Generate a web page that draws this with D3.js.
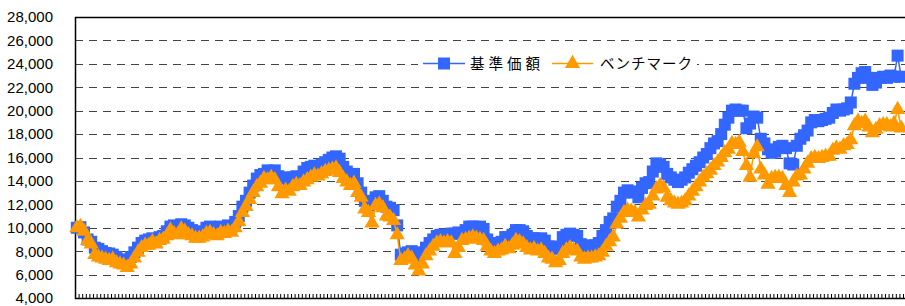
<!DOCTYPE html>
<html>
<head>
<meta charset="utf-8">
<script src="https://cdn.jsdelivr.net/npm/d3@7"></script>
<style>
  html, body { margin: 0; padding: 0; background: #fff; }
  svg { display: block; }
  .tick-label { font-family: "Liberation Sans", Arial, sans-serif; font-size: 15px; fill: #000; }
  .legend-label { font-family: "Noto Sans CJK JP", sans-serif; font-size: 14.5px; fill: #000; }
</style>
</head>
<body>
<svg id="chart" width="905" height="306"></svg>
<script>
// y axis tick labels
var yTicks = [4000, 6000, 8000, 10000, 12000, 14000, 16000, 18000, 20000, 22000, 24000, 26000, 28000];

// series names (legend)
var seriesNames = ['基準価額', 'ベンチマーク'];

// 基準価額, one value per category
var navValues = [
  10000, 10050, 9600, 9000, 8800,
  8300, 8200, 8000, 7850, 7800,
  7700, 7500, 7300, 7200, 7100,
  7500, 7900, 8300, 8700, 8900,
  9000, 9100, 9000, 9200, 9300,
  9700, 10100, 10200, 10100, 10300,
  10200, 10000, 9800, 9600, 9500,
  9700, 10000, 10100, 10000, 9900,
  10100, 10000, 10200, 10100, 10500,
  11000, 11800, 12300, 13000, 13600,
  14200, 14500, 14600, 14900, 14800,
  14900, 14400, 14200, 14300, 14000,
  14300, 14400, 14300, 14800, 15100,
  15200, 15300, 15100, 15400, 15600,
  15800, 16000, 16100, 15900, 15200,
  14800, 14500, 14600, 13800, 13000,
  12300, 11900, 12200, 12600, 12700,
  12300, 11800, 11700, 11500, 10200,
  7700, 7800, 7900, 8000, 7600,
  7400, 7900, 8300, 8700, 9000,
  9300, 9400, 9400, 9300, 9500,
  9500, 9600, 9500, 9800, 10100,
  10100, 10000, 10100, 9900, 9000,
  8700, 8600, 8700, 8800, 9200,
  9200, 9400, 9800, 9800, 9700,
  9300, 9100, 9100, 9000, 9100,
  8900, 8400, 8300, 8400, 8200,
  9200, 9400, 9500, 9400, 9300,
  8600, 8400, 8500, 8400, 8500,
  8700, 9300, 9800, 10500, 10800,
  11800, 12300, 13000, 13200, 13100,
  13000, 12600, 13400, 13800, 13900,
  14800, 15500, 15400, 15200, 14600,
  14300, 14100, 13900, 14100, 14300,
  14700, 15000, 15300, 15600, 16000,
  16300, 16800, 17200, 17400, 18000,
  18800, 19400, 20000, 20100, 20000,
  20000, 18500, 18900, 19500, 19400,
  17600, 17200, 16700, 16400, 16500,
  16900, 17000, 16800, 15500, 15400,
  17000, 17600, 17900, 18300, 19000,
  19200, 19100, 19200, 19300, 19400,
  19800, 20100, 20000, 20100, 20200,
  20700, 22300, 22800, 23200, 23300,
  22800, 22200, 22400, 22800, 22900,
  22800, 23000, 22900, 24700, 22900
];

// ベンチマーク
var benchValues = [
  10000, 10100, 9700, 8900, 8600,
  7700, 7500, 7400, 7300, 7200,
  7300, 7000, 6900, 6800, 6600,
  6900, 7400, 7900, 8300, 8500,
  8500, 8800, 8600, 8900, 9000,
  9300, 9800, 9500, 9400, 9900,
  9700, 9400, 9300, 9100, 9100,
  9200, 9500, 9600, 9400, 9300,
  9600, 9500, 9700, 9600, 10000,
  10500, 11300, 11800, 12400, 13000,
  13500, 13800, 14200, 14100, 14300,
  14100, 13500, 12900, 13200, 13100,
  13500, 13700, 13600, 13900, 14100,
  14300, 14500, 14400, 14600, 14800,
  14900, 15000, 15100, 14700, 14200,
  13900, 13600, 13800, 13000, 12600,
  11600, 11300, 10400, 11900, 12000,
  11700, 11000, 10900, 10600, 9400,
  7200, 7300, 7600, 7400, 6800,
  6300, 6900, 7600, 8000, 8400,
  8700, 8800, 8700, 8800, 8700,
  7800, 8300, 8900, 9000, 9100,
  9200, 9100, 9000, 8900, 8400,
  8000, 7800, 8000, 8100, 8400,
  8200, 8500, 8900, 8800, 8600,
  8300, 8100, 8200, 8000, 8100,
  7800, 7400, 7300, 7000, 7200,
  7800, 8100, 8300, 8100, 8000,
  7500, 7300, 7400, 7400, 7500,
  7600, 7900, 8400, 8800, 9200,
  10300, 10800, 11300, 11500, 11400,
  11300, 10900, 11500, 11900, 12000,
  12700, 13300, 13600, 13400, 12600,
  12300, 12100, 12000, 12100, 12300,
  12700, 13100, 13500, 13900, 14300,
  14600, 14900, 15300, 15600, 16000,
  16400, 16700, 17200, 17100, 17300,
  16500, 15300, 14300, 16300, 16900,
  15000, 14500, 13700, 14200, 14300,
  14300, 14200, 13600, 13000, 13900,
  14400, 14500, 15000, 15500, 15900,
  16000, 15900, 16000, 16100, 16100,
  16600, 16800, 16700, 17000, 17100,
  17500, 18700, 19100, 18900, 19100,
  18600, 18100, 18400, 18700, 18800,
  18800, 18600, 18900, 20100, 18500
];

var BLUE = '#3366ff';
var ORANGE = '#ff9900';

var plot = { left: 75, right: 903, top: 17, bottom: 298 };
var n = navValues.length;

var svg = d3.select('#chart');

// category edges -> ticks; points sit mid-category
var xEdge = d3.scaleLinear().domain([0, n]).range([plot.left, plot.right]);
var x = function(i) { return xEdge(i + 0.5); };

var y = d3.scaleLinear()
  .domain([yTicks[0], yTicks[yTicks.length - 1]])
  .range([plot.bottom, plot.top]);

// dashed gridlines
svg.append('g')
  .selectAll('line')
  .data(yTicks.slice(1, -1))
  .enter().append('line')
  .attr('x1', plot.left).attr('x2', 905)
  .attr('y1', function(d) { return Math.round(y(d)) + 0.5; })
  .attr('y2', function(d) { return Math.round(y(d)) + 0.5; })
  .attr('stroke', '#444')
  .attr('stroke-width', 1)
  .attr('stroke-dasharray', '8,6');

// y labels
svg.append('g')
  .selectAll('text')
  .data(yTicks)
  .enter().append('text')
  .attr('class', 'tick-label')
  .attr('x', 53)
  .attr('y', function(d) { return y(d); })
  .attr('dy', '0.36em')
  .attr('text-anchor', 'end')
  .text(d3.format(','));

// frame: left, top, bottom
svg.append('path')
  .attr('d', 'M905,' + (plot.top + 0.5) + 'H' + (plot.left + 0.5) + 'V' + (plot.bottom + 0.5) + 'H905')
  .attr('fill', 'none')
  .attr('stroke', '#000')
  .attr('stroke-width', 1.5);

// category ticks, pointing up into the plot
var xAxis = svg.append('g')
  .attr('transform', 'translate(0,' + plot.bottom + ')')
  .call(d3.axisBottom(xEdge).tickValues(d3.range(n + 1)).tickSizeInner(-4).tickSizeOuter(0).tickFormat(''));
xAxis.select('.domain').remove();
xAxis.selectAll('.tick line').attr('stroke', '#000');

var line = d3.line()
  .x(function(d, i) { return x(i); })
  .y(function(d) { return y(d); });

var sq = d3.symbol().type(d3.symbolSquare).size(144);
var tri = d3.symbol().type(d3.symbolTriangle).size(100);

var drawSeries = function(values, color, sym) {
  svg.append('path')
    .datum(values)
    .attr('d', line)
    .attr('fill', 'none')
    .attr('stroke', color)
    .attr('stroke-width', 1.5);

  svg.append('g')
    .selectAll('path')
    .data(values)
    .enter().append('path')
    .attr('transform', function(d, i) { return 'translate(' + x(i) + ',' + y(d) + ')'; })
    .attr('d', sym)
    .attr('fill', color);
};

drawSeries(navValues, BLUE, sq);
drawSeries(benchValues, ORANGE, tri);

// legend
var legend = svg.append('g');
legend.append('rect')
  .attr('x', 418).attr('y', 50).attr('width', 279).attr('height', 27)
  .attr('fill', '#fff');

var legendItems = [
  { name: seriesNames[0], color: BLUE, sym: sq, x0: 423, x1: 465, tx: 470, tw: 70 },
  { name: seriesNames[1], color: ORANGE, sym: tri, x0: 552, x1: 593, tx: 600, tw: 92 }
];

legendItems.forEach(function(d) {
  legend.append('line')
    .attr('x1', d.x0).attr('x2', d.x1)
    .attr('y1', 63.5).attr('y2', 63.5)
    .attr('stroke', d.color)
    .attr('stroke-width', 1.5);
  legend.append('path')
    .attr('transform', 'translate(' + ((d.x0 + d.x1) / 2) + ',63.5)')
    .attr('d', d.sym)
    .attr('fill', d.color);
  legend.append('text')
    .attr('class', 'legend-label')
    .attr('x', d.tx).attr('y', 69)
    .attr('textLength', d.tw)
    .attr('lengthAdjust', 'spacing')
    .text(d.name);
});
</script>
</body>
</html>
